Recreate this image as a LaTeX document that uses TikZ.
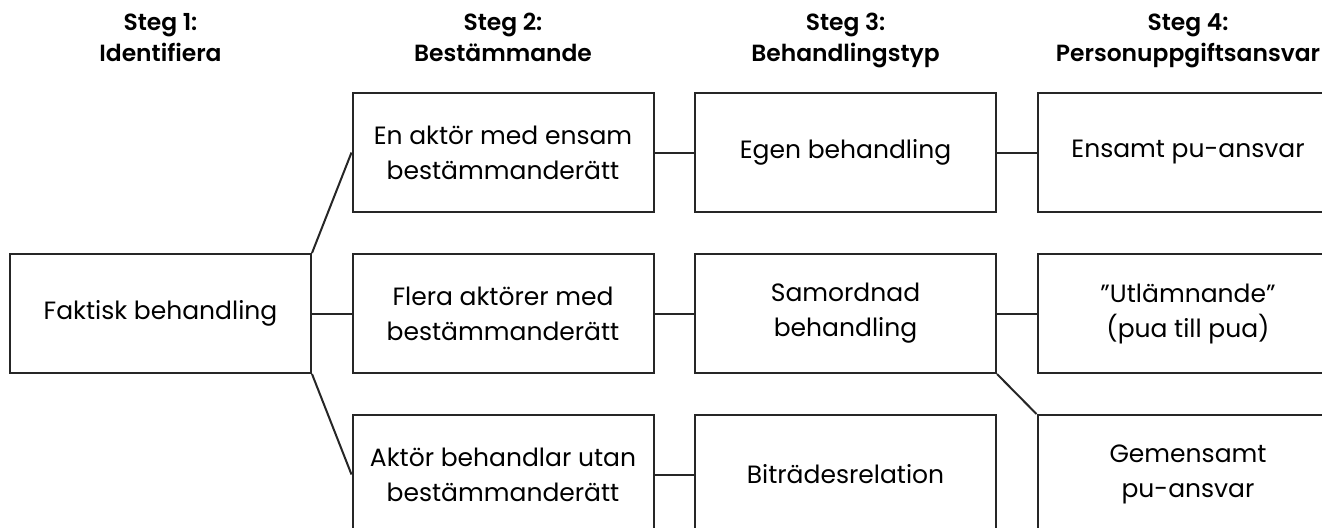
\documentclass[tikz,border=0pt]{standalone}
\usepackage{fontspec}
\setmainfont{Poppins}[BoldFont={Poppins SemiBold}]
\usetikzlibrary{positioning}
\tikzset{
    mybox/.style={rectangle,draw=black!85,line width=1pt, minimum width=150.5pt, minimum height=59.5pt, inner sep=0pt, align=center, font=\fontsize{12.5}{17.5}\selectfont},
    myhead/.style={align=center, inner sep=0pt, font=\bfseries\fontsize{11.7}{15.5}\selectfont},
    lnk/.style={draw=black!85, line width=1pt}
}
\begin{document}
\begin{tikzpicture}[x=0.5pt, y=-0.5pt, node distance=20pt and 19.75pt]
    \useasboundingbox (0,0) rectangle (1322,527);
    % steg 1 och 2
    \node[mybox] (faktisk) at (160.5,313.5) {Faktisk behandling};
    \node[mybox, right=of faktisk] (flera) {Flera aktörer med\\bestämmanderätt};
    \node[mybox, above=of flera] (ensam) {En aktör med ensam\\bestämmanderätt};
    \node[mybox, below=of flera] (utan) {Aktör behandlar utan\\bestämmanderätt};
    % steg 3
    \node[mybox, right=of ensam] (egen) {Egen behandling};
    \node[mybox, right=of flera] (samordnad) {Samordnad\\behandling};
    \node[mybox, right=of utan] (bitrade) {Biträdesrelation};
    % steg 4
    \node[mybox, right=of egen] (ensampu) {Ensamt pu-ansvar};
    \node[mybox, right=of samordnad] (utlamn) {”Utlämnande”\\(pua till pua)};
    \node[mybox, right=of bitrade] (gemensam) {Gemensamt\\pu-ansvar};

    \coordinate (top1) at (faktisk |- ensam.north);
    \node[myhead, above=10.35pt of top1] (steg1) {Steg 1:\\Identifiera\strut};
    \node[myhead, above=10.35pt of ensam] (steg2) {Steg 2:\\Bestämmande\strut};
    \node[myhead, above=10.35pt of egen] (steg3) {Steg 3:\\Behandlingstyp\strut};
    \node[myhead, above=10.35pt of ensampu] (steg4) {Steg 4:\\Personuppgiftsansvar\strut};

    \draw[lnk] (faktisk.north east) -- (ensam.west);
    \draw[lnk] (faktisk.east) -- (flera.west);
    \draw[lnk] (faktisk.south east) -- (utan.west);
    \draw[lnk] (ensam) -- (egen);
    \draw[lnk] (flera) -- (samordnad);
    \draw[lnk] (utan) -- (bitrade);
    \draw[lnk] (egen) -- (ensampu);
    \draw[lnk] (samordnad) -- (utlamn);
    \draw[lnk] (samordnad.south east) -- (gemensam.north west);
\end{tikzpicture}
\end{document}
